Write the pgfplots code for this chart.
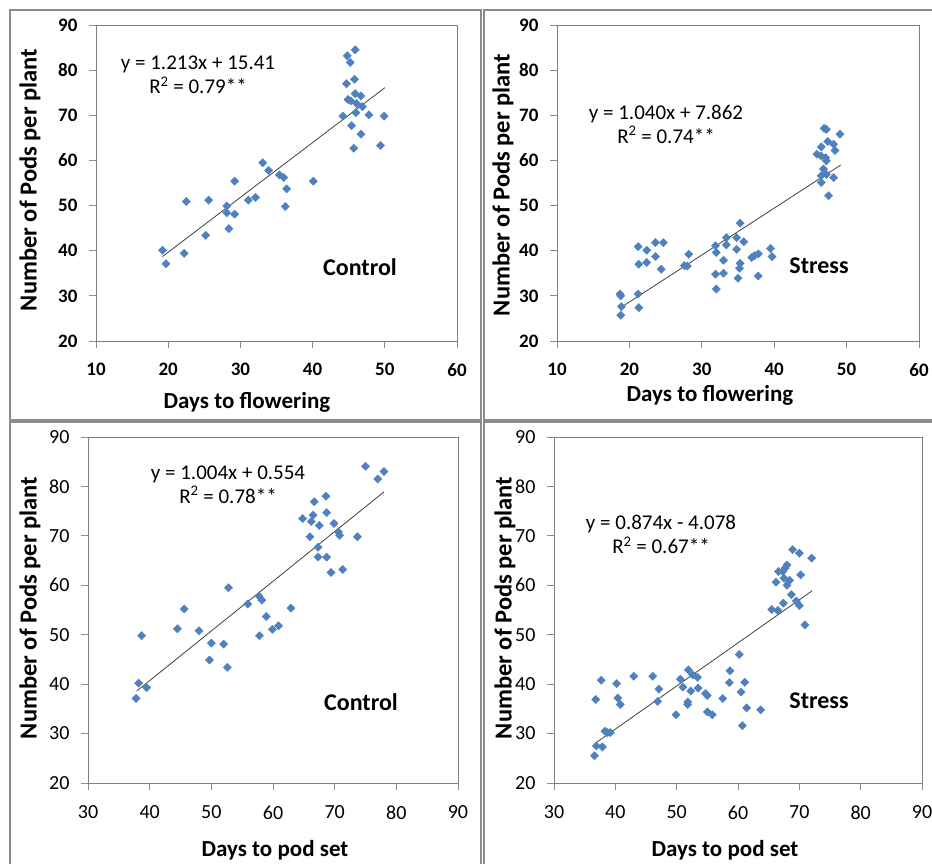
\documentclass[border=0pt]{standalone}
\usepackage{fontspec}
\setmainfont{Carlito}
\usepackage{pgfplots}
\pgfplotsset{compat=1.18}
\definecolor{mk}{HTML}{4F81BD}
\definecolor{fr}{HTML}{8C8C8C}
\pgfplotsset{
  panel/.style={
    scale only axis, anchor=south west,
    axis line style={draw=black!50, line width=0.8pt},
    tick align=outside, tick pos=left, major tick length=7pt,
    tick style={draw=black!45, line width=0.8pt},
    /pgf/number format/assume math mode=true,
    ymin=20, ymax=90, ytick={20,30,...,90},
    yticklabel style={xshift=-8pt},
    xticklabel style={yshift=-12pt},
    clip=false,
  },
  topp/.style={panel, xmin=10, xmax=60, xtick={10,20,...,60},
    tick label style={font=\bfseries\fontsize{19}{19}\selectfont}},
  botp/.style={panel, xmin=30, xmax=90, xtick={30,40,...,90},
    tick label style={font=\fontsize{20}{20}\selectfont}},
  pts/.style={only marks, mark=square*, mark size=2.9pt, color=mk,
    mark options={rotate=45, draw=mk, fill=mk}},
  fit/.style={no marks, draw=black!75, line width=0.8pt},
}
\begin{document}
\begin{tikzpicture}[x=1pt,y=1pt]
\path[use as bounding box] (0,0) rectangle (932,863);
\clip (0,0) rectangle (932,863);
\fill[white] (0,0) rectangle (932,863);
% frames
\draw[fr, line width=1.2pt] (10,443) rectangle (481,853);
\draw[fr, line width=1.2pt] (484,443) rectangle (945,853);
\draw[fr, line width=1.2pt] (10,-10) rectangle (481,441);
\draw[fr, line width=1.2pt] (484,-10) rectangle (945,441);

% Panel 1
\begin{axis}[topp, at={(96pt,522pt)}, width=361pt, height=316pt]
\addplot[pts] coordinates {(45.9,84.5)(44.8,83.2)(45.2,81.7)(45.8,78.0)(44.7,77.0)(45.9,74.8)(46.7,74.3)(44.9,73.5)(45.3,73.2)(46.1,72.6)(46.9,71.9)(46.0,70.6)(44.2,69.8)(47.8,70.1)(49.9,69.8)(45.4,67.7)(46.7,65.8)(45.7,62.7)(49.4,63.3)(33.1,59.5)(33.9,57.8)(35.4,56.8)(36.0,56.2)(36.4,53.7)(40.1,55.4)(29.2,55.4)(36.2,49.8)(32.1,51.8)(31.1,51.2)(25.6,51.2)(22.5,50.9)(28.1,49.9)(28.1,48.4)(29.2,48.1)(28.4,44.9)(25.2,43.4)(19.2,40.1)(22.2,39.4)(19.7,37.1)};
\addplot[fit] coordinates {(19.2,38.7)(50,76.1)};
\end{axis}

% Panel 2
\begin{axis}[topp, at={(557pt,522pt)}, width=362pt, height=316pt]
\addplot[pts] coordinates {(46.9,67.1)(47.2,66.9)(49.1,65.8)(47.4,64.2)(48.2,63.6)(46.5,63.0)(48.4,62.2)(45.9,61.4)(46.5,61.0)(47.1,60.6)(47.2,59.9)(46.8,58.1)(46.5,56.6)(47.2,56.9)(48.2,56.2)(46.5,55.1)(47.5,52.2)(35.3,46.1)(33.4,42.9)(34.8,42.9)(35.8,42.0)(31.9,41.1)(33.4,41.3)(34.8,40.3)(32.0,39.6)(39.5,40.5)(36.9,38.5)(37.3,38.9)(37.8,39.3)(39.7,38.7)(33.0,37.9)(35.3,37.2)(35.2,36.1)(31.9,34.8)(33.0,35.0)(35.0,33.9)(37.8,34.4)(32.0,31.5)(21.2,40.9)(22.4,40.1)(23.6,41.8)(24.7,41.8)(23.6,38.7)(21.3,37.0)(22.4,37.4)(24.4,35.9)(28.2,39.2)(27.6,36.7)(28.0,36.6)(18.7,30.4)(18.8,30.0)(21.2,30.4)(18.9,27.6)(21.3,27.4)(18.8,25.7)};
\addplot[fit] coordinates {(18.8,27.4)(49.2,59.0)};
\end{axis}

% Panel 3
\begin{axis}[botp, at={(88pt,80pt)}, width=370pt, height=346pt]
\addplot[pts] coordinates {(75.0,84.1)(78.0,83.0)(77.0,81.5)(68.6,78.0)(66.7,76.9)(68.7,74.7)(66.5,74.2)(64.8,73.5)(66.2,72.9)(67.5,72.1)(69.9,72.5)(70.6,70.8)(70.8,70.1)(66.0,69.8)(73.7,69.8)(67.3,67.7)(67.3,65.7)(68.7,65.7)(69.4,62.6)(71.3,63.2)(52.8,59.5)(57.7,57.8)(58.2,57.0)(55.9,56.2)(62.9,55.4)(58.9,53.7)(45.6,55.2)(59.9,51.1)(60.9,51.8)(44.5,51.2)(48.0,50.8)(57.8,49.8)(38.7,49.8)(50.0,48.3)(52.0,48.1)(49.7,44.9)(52.6,43.4)(38.2,40.2)(39.5,39.3)(37.8,37.1)};
\addplot[fit] coordinates {(37.9,38.6)(78,78.9)};
\end{axis}

% Panel 4
\begin{axis}[botp, at={(554pt,80pt)}, width=368pt, height=346pt]
\addplot[pts] coordinates {(68.9,67.2)(70.0,66.5)(72.0,65.5)(68.0,64.1)(67.7,63.5)(66.6,62.8)(67.3,62.8)(70.2,62.1)(67.5,61.4)(68.4,61.0)(66.2,60.6)(68.0,60.0)(68.7,58.1)(69.5,56.8)(70.0,55.9)(67.4,56.4)(65.5,55.1)(66.5,54.9)(70.9,52.0)(60.2,46.0)(58.7,42.7)(51.9,42.9)(52.6,41.9)(53.4,41.4)(46.1,41.6)(43.0,41.6)(50.6,41.0)(58.6,40.3)(61.1,40.4)(51.0,39.4)(53.5,39.2)(47.1,39.0)(52.3,38.6)(54.7,38.1)(55.0,37.7)(60.5,38.4)(46.9,36.5)(51.8,36.4)(51.8,35.9)(57.5,37.1)(61.4,35.2)(63.7,34.8)(55.0,34.4)(55.8,33.8)(49.9,33.8)(60.7,31.6)(37.7,40.8)(40.2,40.1)(36.8,36.9)(40.4,37.2)(40.8,35.9)(38.3,30.5)(38.7,30.2)(39.2,30.2)(36.9,27.5)(37.9,27.3)(36.6,25.5)};
\addplot[fit] coordinates {(36.9,28.2)(72.1,58.9)};
\end{axis}

% equations
\begin{scope}[every node/.style={align=center, font=\fontsize{21}{24}\selectfont}]
\node at (198,788) {y = 1.213x + 15.41\\R\textsuperscript{2} = 0.79**};
\node at (666,739) {y = 1.040x + 7.862\\R\textsuperscript{2} = 0.74**};
\node at (228,378.5) {y = 1.004x + 0.554\\R\textsuperscript{2} = 0.78**};
\node at (661,328.5) {y = 0.874x - 4.078\\R\textsuperscript{2} = 0.67**};
\end{scope}
% treatment labels
\begin{scope}[every node/.style={font=\bfseries\fontsize{24}{24}\selectfont}]
\node at (360,596) {Control};
\node at (819,597) {Stress};
\node at (361,161) {Control};
\node at (819,162) {Stress};
\end{scope}
% axis titles
\begin{scope}[every node/.style={font=\bfseries\fontsize{23}{23}\selectfont}]
\node at (247,461) {Days to flowering};
\node at (710,468) {Days to flowering};
\node at (275,13) {Days to pod set};
\node at (725,13) {Days to pod set};
\end{scope}
\begin{scope}[every node/.style={font=\bfseries\fontsize{24.5}{24.5}\selectfont}]
\node[rotate=90] at (30,683) {Number of Pods per plant};
\node[rotate=90] at (503,678) {Number of Pods per plant};
\node[rotate=90] at (30,255) {Number of Pods per plant};
\node[rotate=90] at (505,255) {Number of Pods per plant};
\end{scope}
\end{tikzpicture}
\end{document}
